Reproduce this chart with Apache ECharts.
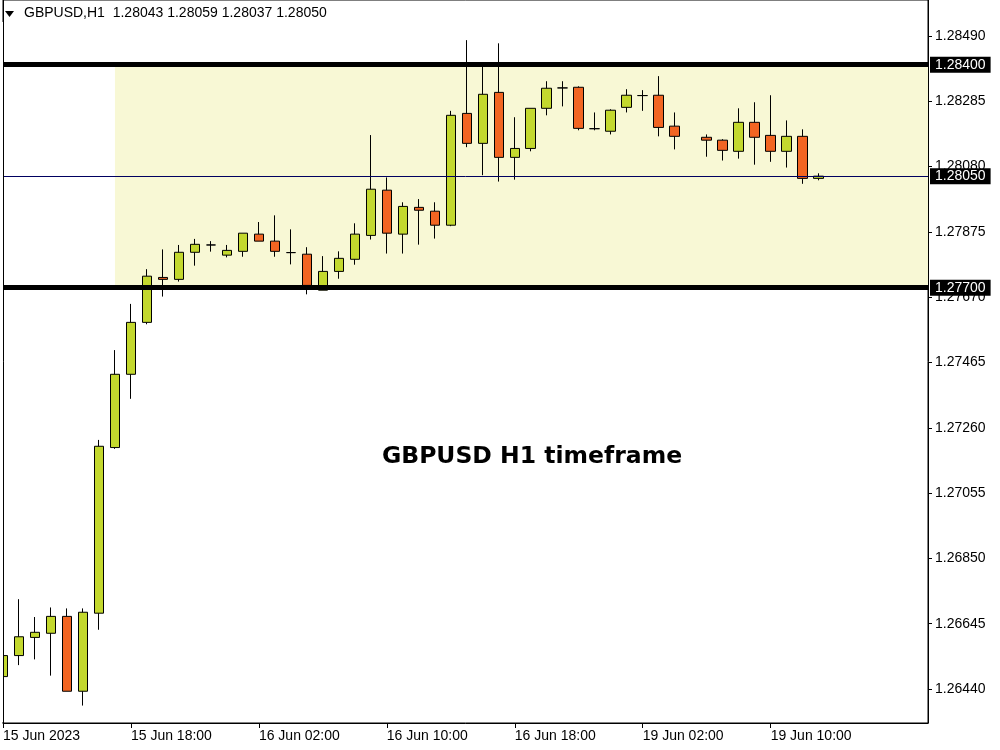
<!DOCTYPE html>
<html>
<head>
<meta charset="utf-8">
<script src="https://cdn.jsdelivr.net/npm/echarts@6/dist/echarts.min.js"></script>
<style>
html,body{margin:0;padding:0;background:#fff;}
#chart{width:1000px;height:750px;}
</style>
</head>
<body>
<div id="chart"></div>
<script>
// ---- data ----
const symbolHeader = 'GBPUSD,H1  1.28043 1.28059 1.28037 1.28050';
const chartTitle = 'GBPUSD H1 timeframe';
const xTickIdx = [0, 8, 16, 24, 32, 40, 48];
const xTickLabels = ['15 Jun 2023', '15 Jun 18:00', '16 Jun 02:00', '16 Jun 10:00', '16 Jun 18:00', '19 Jun 02:00', '19 Jun 10:00'];
const yTicks = [1.26440, 1.26645, 1.26850, 1.27055, 1.27260, 1.27465, 1.27670, 1.27875, 1.28080, 1.28285, 1.28490];
const opens  = [1.26479,1.26545,1.26602,1.26615,1.26668,1.26433,1.26678,1.27198,1.27428,1.27591,1.27732,1.27726,1.27811,1.27834,1.27802,1.27814,1.27868,1.27846,1.27810,1.27805,1.27692,1.27751,1.27789,1.27864,1.28006,1.27868,1.27952,1.27940,1.27896,1.28247,1.28153,1.28313,1.28109,1.28137,1.28263,1.28327,1.28329,1.28199,1.28191,1.28266,1.28303,1.28304,1.28207,null,1.28172,1.28163,1.28128,1.28219,1.28178,1.28128,1.28175,1.28043];
const highs  = [1.26566,1.26722,1.26666,1.26696,1.26693,1.26693,1.27222,1.27504,1.27649,1.27758,1.27820,1.27834,1.27853,1.27846,1.27834,1.27871,1.27906,1.27927,1.27883,1.27827,1.27799,1.27814,1.27902,1.28179,1.28046,1.27968,1.27978,1.27968,1.28255,1.28477,1.28396,1.28467,1.28235,1.28263,1.28348,1.28348,1.28332,1.28250,1.28260,1.28323,1.28320,1.28364,1.28250,null,1.28181,1.28166,1.28263,1.28282,1.28304,1.28225,1.28197,1.28059];
const lows   = [1.26390,1.26515,1.26533,1.26482,1.26433,1.26388,1.26626,1.27194,1.27351,1.27585,1.27672,1.27719,1.27769,1.27813,1.27795,1.27797,1.27846,1.27797,1.27773,1.27679,1.27692,1.27728,1.27772,1.27851,1.27807,1.27807,1.27835,1.27854,1.27893,1.28141,1.28053,1.28033,1.28039,1.28128,1.28241,1.28269,1.28194,1.28194,1.28181,1.28250,1.28255,1.28175,1.28134,null,1.28111,1.28099,1.28105,1.28086,1.28095,1.28077,1.28026,1.28037];
const closes = [1.26545,1.26604,1.26618,1.26668,1.26433,1.26681,1.27202,1.27428,1.27591,1.27736,1.27726,1.27811,1.27836,1.27834,1.27817,1.27871,1.27846,1.27814,1.27810,1.27707,1.27751,1.27792,1.27868,1.28009,1.27871,1.27955,1.27943,1.27896,1.28241,1.28153,1.28307,1.28109,1.28137,1.28263,1.28326,1.28327,1.28200,1.28199,1.28257,1.28304,1.28303,1.28203,1.28175,null,1.28163,1.28131,1.28219,1.28172,1.28128,1.28175,1.28043,1.28050];
const resistanceLevel = 1.28400;
const supportLevel = 1.27700;
const lastPrice = 1.28050;
const zoneStartIdx = 7;
// visible ranges of the axes
const yMin = 1.263333, yMax = 1.286030;
const xMin = 0, xMax = 57.84;

// ---- build ----
const candleData = [];
for (let i = 0; i < opens.length; i++) {
  if (opens[i] == null) continue;
  candleData.push([i, opens[i], closes[i], lows[i], highs[i]]);
}
const FONT = 'Liberation Sans';
const levelLabel = {
  show: true, position: 'end', distance: 2,
  backgroundColor: '#000', color: '#fff', padding: [1, 5, 1, 5],
  fontFamily: FONT, fontSize: 14, lineHeight: 14
};
const chart = echarts.init(document.getElementById('chart'), null, {renderer: 'canvas'});
chart.setOption({
  animation: false,
  backgroundColor: '#ffffff',
  grid: {left: 3, right: 72, top: 0, bottom: 27, show: true, borderColor: '#000', borderWidth: 1, backgroundColor: 'transparent'},
  xAxis: {
    type: 'value', min: xMin, max: xMax,
    splitLine: {show: false},
    axisLine: {show: true, onZero: false, lineStyle: {color: '#000', width: 1}},
    axisTick: {show: true, length: 5, inside: false, lineStyle: {color: '#000'}, customValues: xTickIdx},
    axisLabel: {
      show: true, customValues: xTickIdx, margin: 6, align: 'left',
      color: '#000', fontFamily: FONT, fontSize: 14,
      formatter: function (v) { const k = xTickIdx.indexOf(Math.round(v)); return k >= 0 ? xTickLabels[k] : ''; }
    }
  },
  yAxis: {
    type: 'value', position: 'right', min: yMin, max: yMax, scale: true,
    splitLine: {show: false},
    axisLine: {show: true, onZero: false, lineStyle: {color: '#000', width: 1}},
    axisTick: {show: true, length: 4, lineStyle: {color: '#000'}, customValues: yTicks},
    axisLabel: {
      show: true, customValues: yTicks, margin: 7,
      color: '#000', fontFamily: FONT, fontSize: 14,
      formatter: function (v) { return v.toFixed(5); }
    }
  },
  graphic: [
    // white mask left of the chart frame (the first candle is cut by the frame)
    {type: 'rect', shape: {x: 0, y: 22, width: 3, height: 700}, style: {fill: '#fff'}, z: 50},
    {type: 'line', shape: {x1: 3.5, y1: 0, x2: 3.5, y2: 723}, style: {stroke: '#000', lineWidth: 1}, z: 51},
    {type: 'polygon', shape: {points: [[5, 11], [14, 11], [9.5, 17]]}, style: {fill: '#000'}, z: 100},
    {type: 'text', left: 24, top: 6, style: {text: symbolHeader, font: '14px "Liberation Sans"', fill: '#000'}, z: 100},
    {type: 'text', x: 532, y: 457, style: {text: chartTitle, font: 'bold 23.5px "DejaVu Sans"', fill: '#000', align: 'center', verticalAlign: 'middle'}, z: 100}
  ],
  series: [{
    type: 'candlestick',
    data: candleData,
    encode: {x: 0, y: [1, 2, 3, 4]},
    barWidth: 10,
    clip: true,
    z: 3,
    itemStyle: {color: '#c3d82e', color0: '#f26522', borderColor: '#000', borderColor0: '#000', borderWidth: 1},
    markArea: {
      silent: true,
      itemStyle: {color: '#f8f8d5'},
      data: [[{xAxis: zoneStartIdx, yAxis: supportLevel}, {xAxis: xMax, yAxis: resistanceLevel}]]
    }
  }, {
    type: 'line',
    data: [],
    z: 4,
    markLine: {
      silent: true,
      symbol: ['none', 'none'],
      precision: 5,
      data: [
        {yAxis: lastPrice, lineStyle: {color: '#000060', width: 1, type: 'solid'}, label: Object.assign({formatter: lastPrice.toFixed(5)}, levelLabel)},
        {yAxis: resistanceLevel, lineStyle: {color: '#000', width: 5, type: 'solid'}, label: Object.assign({formatter: resistanceLevel.toFixed(5)}, levelLabel)},
        {yAxis: supportLevel, lineStyle: {color: '#000', width: 5, type: 'solid'}, label: Object.assign({formatter: supportLevel.toFixed(5)}, levelLabel)}
      ]
    }
  }]
});
</script>
</body>
</html>
